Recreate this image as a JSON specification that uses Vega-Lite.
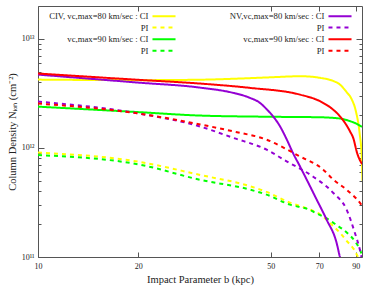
{
  "$schema": "https://vega.github.io/schema/vega-lite/v6.json",
  "width": 324,
  "height": 251,
  "autosize": {"type": "none"},
  "padding": {"left": 38, "top": 6, "right": 12, "bottom": 29},
  "config": {
    "font": "Liberation Serif",
    "view": {"stroke": "#555555", "strokeWidth": 1},
    "axis": {"domain": false, "grid": false, "tickColor": "#555555", "labelFont": "Liberation Serif", "titleFont": "Liberation Serif", "labelColor": "#222222", "titleColor": "#222222", "titleFontWeight": "normal"}
  },
  "data": {"values": [
    {"s":"c80ci","b":10,"n":4.23e12},{"s":"c80ci","b":20,"n":4.18e12},{"s":"c80ci","b":30.7,"n":4.22e12},{"s":"c80ci","b":40,"n":4.32e12},{"s":"c80ci","b":50,"n":4.44e12},{"s":"c80ci","b":61.2,"n":4.54e12},{"s":"c80ci","b":66,"n":4.5e12},{"s":"c80ci","b":70.3,"n":4.39e12},{"s":"c80ci","b":76.9,"n":4.12e12},{"s":"c80ci","b":80.7,"n":3.81e12},{"s":"c80ci","b":84.5,"n":3.25e12},{"s":"c80ci","b":87.5,"n":2.8e12},{"s":"c80ci","b":90,"n":2.2e12},{"s":"c80ci","b":92.5,"n":1.35e12},{"s":"c80ci","b":93.8,"n":8.4e11},{"s":"c80ci","b":94.3,"n":5e11},
    {"s":"c80pi","b":10,"n":9.06e11},{"s":"c80pi","b":20,"n":7.48e11},{"s":"c80pi","b":30.7,"n":5.65e11},{"s":"c80pi","b":43.4,"n":4.45e11},{"s":"c80pi","b":48.6,"n":3.95e11},{"s":"c80pi","b":57.1,"n":3.15e11},{"s":"c80pi","b":65.6,"n":2.72e11},{"s":"c80pi","b":70.5,"n":2.45e11},{"s":"c80pi","b":76,"n":2.0e11},{"s":"c80pi","b":80.8,"n":1.66e11},{"s":"c80pi","b":85,"n":1.38e11},{"s":"c80pi","b":88.8,"n":1.18e11},{"s":"c80pi","b":91.5,"n":1.0e11},{"s":"c80pi","b":93.5,"n":9e10},
    {"s":"c90ci","b":10,"n":2.39e12},{"s":"c90ci","b":20,"n":2.13e12},{"s":"c90ci","b":30.7,"n":1.98e12},{"s":"c90ci","b":50,"n":1.93e12},{"s":"c90ci","b":70,"n":1.91e12},{"s":"c90ci","b":80.7,"n":1.86e12},{"s":"c90ci","b":86.5,"n":1.76e12},{"s":"c90ci","b":90,"n":1.68e12},{"s":"c90ci","b":94,"n":1.56e12},
    {"s":"c90pi","b":10,"n":8.59e11},{"s":"c90pi","b":20,"n":7.07e11},{"s":"c90pi","b":30.7,"n":5.1e11},{"s":"c90pi","b":43.4,"n":4.14e11},{"s":"c90pi","b":48.6,"n":3.73e11},{"s":"c90pi","b":57.1,"n":3.02e11},{"s":"c90pi","b":65.6,"n":2.7e11},{"s":"c90pi","b":68.1,"n":2.54e11},{"s":"c90pi","b":73.2,"n":2.28e11},{"s":"c90pi","b":78.5,"n":1.98e11},{"s":"c90pi","b":84.9,"n":1.66e11},{"s":"c90pi","b":89.6,"n":1.39e11},{"s":"c90pi","b":92.5,"n":1.18e11},{"s":"c90pi","b":94,"n":1.04e11},
    {"s":"n80ci","b":10,"n":4.7e12},{"s":"n80ci","b":20,"n":3.97e12},{"s":"n80ci","b":30.7,"n":3.57e12},{"s":"n80ci","b":38.5,"n":3.2e12},{"s":"n80ci","b":43.4,"n":2.87e12},{"s":"n80ci","b":46.4,"n":2.59e12},{"s":"n80ci","b":48.7,"n":2.25e12},{"s":"n80ci","b":50.8,"n":1.95e12},{"s":"n80ci","b":53.3,"n":1.58e12},{"s":"n80ci","b":55.9,"n":1.19e12},{"s":"n80ci","b":58.3,"n":9e11},{"s":"n80ci","b":61.2,"n":6.78e11},{"s":"n80ci","b":68.7,"n":3.36e11},{"s":"n80ci","b":73.6,"n":2.2e11},{"s":"n80ci","b":78.9,"n":1.34e11},{"s":"n80ci","b":80.7,"n":1.0e11},{"s":"n80ci","b":82.5,"n":8e10},
    {"s":"n80pi","b":10,"n":2.66e12},{"s":"n80pi","b":20,"n":2.07e12},{"s":"n80pi","b":30.7,"n":1.57e12},{"s":"n80pi","b":38.5,"n":1.24e12},{"s":"n80pi","b":48.6,"n":9.64e11},{"s":"n80pi","b":55.8,"n":7.53e11},{"s":"n80pi","b":65.6,"n":5.69e11},{"s":"n80pi","b":77.1,"n":3.86e11},{"s":"n80pi","b":84.5,"n":2.72e11},{"s":"n80pi","b":89.5,"n":1.66e11},{"s":"n80pi","b":92.6,"n":1.17e11},{"s":"n80pi","b":94,"n":9.5e10},
    {"s":"n90ci","b":10,"n":4.81e12},{"s":"n90ci","b":20,"n":4.21e12},{"s":"n90ci","b":30.7,"n":3.89e12},{"s":"n90ci","b":43.4,"n":3.55e12},{"s":"n90ci","b":61.2,"n":3.08e12},{"s":"n90ci","b":70.3,"n":2.68e12},{"s":"n90ci","b":76.9,"n":2.25e12},{"s":"n90ci","b":80.7,"n":1.95e12},{"s":"n90ci","b":86.5,"n":1.42e12},{"s":"n90ci","b":88.5,"n":1.23e12},{"s":"n90ci","b":90.8,"n":9.06e11},{"s":"n90ci","b":94,"n":7.1e11},
    {"s":"n90pi","b":10,"n":2.55e12},{"s":"n90pi","b":20,"n":2.07e12},{"s":"n90pi","b":30.7,"n":1.64e12},{"s":"n90pi","b":38.5,"n":1.42e12},{"s":"n90pi","b":48.6,"n":1.19e12},{"s":"n90pi","b":60.5,"n":8.5e11},{"s":"n90pi","b":71.9,"n":6.32e11},{"s":"n90pi","b":77.1,"n":5.12e11},{"s":"n90pi","b":84.5,"n":4.14e11},{"s":"n90pi","b":92.7,"n":3.13e11},{"s":"n90pi","b":94,"n":2.95e11}
  ]},
  "resolve": {"axis": {"x": "independent", "y": "independent"}},
  "layer": [
    {
      "mark": {"type": "line", "strokeWidth": 2, "clip": true, "interpolate": "monotone"},
      "encoding": {
        "x": {"field": "b", "type": "quantitative",
          "scale": {"type": "log", "domain": [10, 94], "nice": false},
          "axis": {"orient": "bottom", "values": [10, 20, 50, 70, 90], "tickSize": -5, "labelFontSize": 8, "labelPadding": 10, "title": "Impact Parameter b (kpc)", "titleFontSize": 10.5, "titlePadding": 4, "labelFlush": false}},
        "y": {"field": "n", "type": "quantitative",
          "scale": {"type": "log", "domain": [1e11, 2e13], "nice": false},
          "axis": {"orient": "left",
            "values": [1e11, 2e11, 3e11, 4e11, 5e11, 6e11, 7e11, 8e11, 9e11, 1e12, 2e12, 3e12, 4e12, 5e12, 6e12, 7e12, 8e12, 9e12, 1e13],
            "tickSize": {"condition": {"test": "datum.value == 1e11 || datum.value == 1e12 || datum.value == 1e13", "value": -6}, "value": -3},
            "labelExpr": "datum.value == 1e11 ? '10¹¹' : datum.value == 1e12 ? '10¹²' : datum.value == 1e13 ? '10¹³' : ''",
            "labelFontSize": 8, "labelPadding": 10, "labelFlush": false,
            "title": "Column Density Nᵢₒₙ (cm⁻²)", "titleFontSize": 10.5, "titlePadding": 4}},
        "color": {"field": "s", "type": "nominal", "sort": null,
          "scale": {"domain": ["c80ci", "c80pi", "c90ci", "c90pi", "n80ci", "n80pi", "n90ci", "n90pi"],
                    "range": ["#ffff00", "#ffff00", "#00ff00", "#00ff00", "#9400d3", "#9400d3", "#ff0000", "#ff0000"]},
          "legend": {"title": null, "orient": "none", "legendX": 121, "legendY": 5, "columns": 2, "columnPadding": 49, "rowPadding": 1.6, "padding": 0,
            "symbolType": "M-3,0H3", "symbolSize": 59, "symbolStrokeWidth": 2,
            "labelFont": "Liberation Serif", "labelFontSize": 8.7, "labelColor": "#222222", "labelAlign": "right", "labelOffset": -20.5, "labelLimit": 300,
            "labelExpr": "{'c80ci': 'CIV, vc,max=80 km/sec : CI', 'n80ci': 'NV,vc,max=80 km/sec : CI', 'c90ci': 'vc,max=90 km/sec : CI', 'n90ci': 'vc,max=90 km/sec : CI'}[datum.value] || 'PI'"}},
        "strokeDash": {"field": "s", "type": "nominal", "sort": null,
          "scale": {"domain": ["c80ci", "c80pi", "c90ci", "c90pi", "n80ci", "n80pi", "n90ci", "n90pi"],
                    "range": [[1, 0], [4, 4], [1, 0], [4, 4], [1, 0], [4, 4], [1, 0], [4, 4]]},
          "legend": {"title": null, "orient": "none", "legendX": 121, "legendY": 5, "columns": 2, "columnPadding": 49, "rowPadding": 1.6, "padding": 0,
            "symbolType": "M-3,0H3", "symbolSize": 59, "symbolStrokeWidth": 2,
            "labelFont": "Liberation Serif", "labelFontSize": 8.7, "labelColor": "#222222", "labelAlign": "right", "labelOffset": -20.5, "labelLimit": 300,
            "labelExpr": "{'c80ci': 'CIV, vc,max=80 km/sec : CI', 'n80ci': 'NV,vc,max=80 km/sec : CI', 'c90ci': 'vc,max=90 km/sec : CI', 'n90ci': 'vc,max=90 km/sec : CI'}[datum.value] || 'PI'"}}
      }
    },
    {
      "mark": {"type": "point", "opacity": 0, "clip": true},
      "encoding": {
        "x": {"field": "b", "type": "quantitative",
          "axis": {"orient": "top", "values": [10, 20, 50, 70, 90], "tickSize": -5, "labels": false, "title": null}},
        "y": {"field": "n", "type": "quantitative",
          "axis": {"orient": "right",
            "values": [1e11, 2e11, 3e11, 4e11, 5e11, 6e11, 7e11, 8e11, 9e11, 1e12, 2e12, 3e12, 4e12, 5e12, 6e12, 7e12, 8e12, 9e12, 1e13],
            "tickSize": {"condition": {"test": "datum.value == 1e11 || datum.value == 1e12 || datum.value == 1e13", "value": -6}, "value": -3},
            "labels": false, "title": null}}
      }
    }
  ]
}
